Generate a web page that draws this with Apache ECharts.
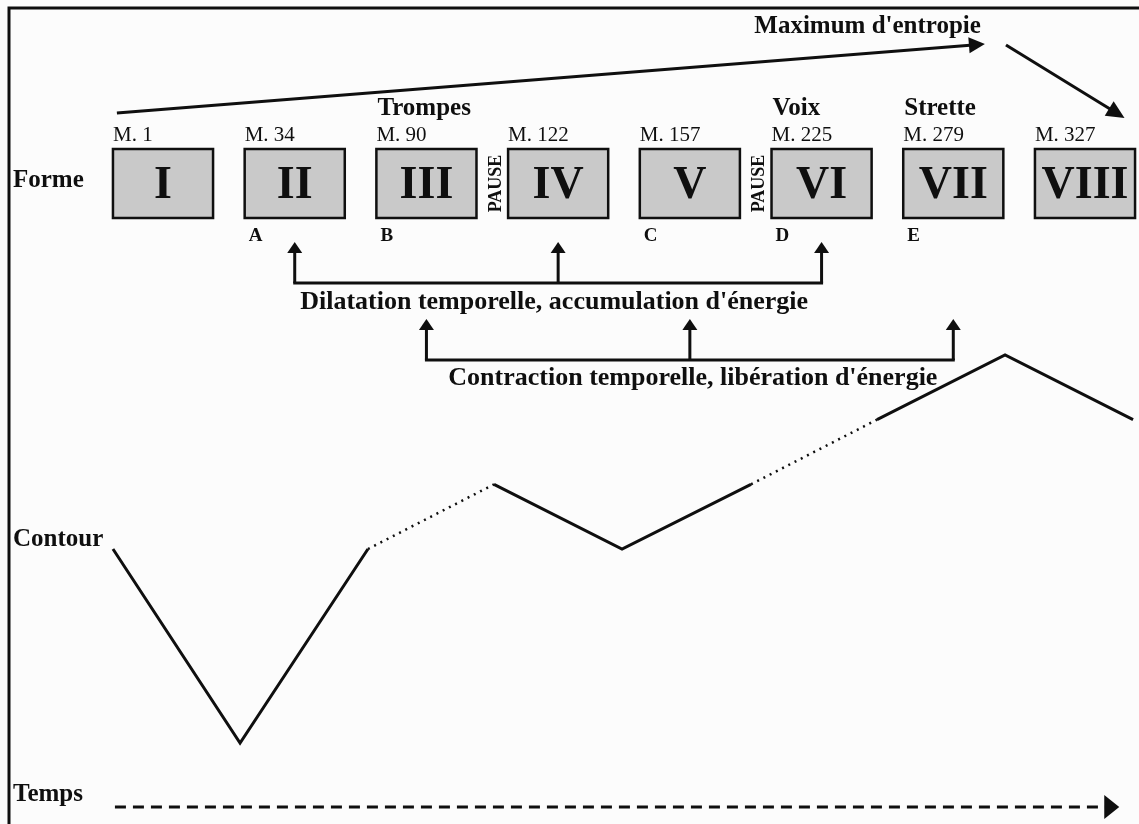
<!DOCTYPE html>
<html>
<head>
<meta charset="utf-8">
<title>Forme et contour</title>
<script src="https://cdn.jsdelivr.net/npm/echarts@6/dist/echarts.min.js"></script>
<style>
  html, body { margin: 0; padding: 0; background: #fcfcfc; }
  #chart { width: 1139px; height: 824px; }
</style>
</head>
<body>
<div id="chart"></div>
<script>
// sections de la forme
const sections = ['I', 'II', 'III', 'IV', 'V', 'VI', 'VII', 'VIII'];
const measures = ['M. 1', 'M. 34', 'M. 90', 'M. 122', 'M. 157', 'M. 225', 'M. 279', 'M. 327'];
const themes = ['', 'A', 'B', '', 'C', 'D', 'E', ''];
const tags = ['', '', 'Trompes', '', '', 'Voix', 'Strette', ''];
const pauses = [3, 5];              // pause avant IV et VI
const dilatation = [1, 3, 5];       // II, IV, VI
const contraction = [2, 4, 6];      // III, V, VII

// contour : x en sections, niveau relatif
const contourX = [-0.38, 0.585, 1.556, 2.513, 3.485, 4.464, 5.421, 6.393, 7.365];
const contourLevel = [3, 0, 3, 4, 3, 4, 5, 6, 5];
const contourStyle = ['solid', 'solid', 'dotted', 'solid', 'solid', 'dotted', 'solid', 'solid'];

// fleche d'entropie et axe du temps (x en sections)
const entropyX = [-0.35, 6.24, 6.40, 7.30];
const timeX = [-0.365, 7.26];

const INK = '#0f0f0f';
const BOX_FILL = '#c9c9c9';
const SERIF = '"Liberation Serif", "Times New Roman", serif';
const BOX_W = 0.76;
// etendue de l'axe des sections sur toute la largeur
const X_MIN = -1.2376;
const X_MAX = 7.41;

// rangees de la partie haute (px)
const ROW = {
  entropyText: 27, entropyStart: 113, entropyPeak: 44, entropyPeak2: 45, entropyEnd: 118,
  tag: 109, measure: 135, boxTop: 149, boxBottom: 218, numeral: 186, theme: 236,
  dilTip: 242, dilBar: 283, dilText: 302,
  conTip: 319, conBar: 360, conText: 378,
  time: 807
};

function head(x1, y1, x2, y2, len, half) {
  const dx = x2 - x1, dy = y2 - y1, d = Math.hypot(dx, dy);
  const ux = dx / d, uy = dy / d;
  const bx = x2 - ux * len, by = y2 - uy * len;
  return {
    base: [bx + ux, by + uy],
    pts: [[x2, y2], [bx - uy * half, by + ux * half], [bx + uy * half, by - ux * half]]
  };
}

function arrow(x1, y1, x2, y2, len, half, width, dash) {
  const h = head(x1, y1, x2, y2, len, half);
  return [
    { type: 'line', shape: { x1: x1, y1: y1, x2: h.base[0], y2: h.base[1] },
      style: { stroke: INK, lineWidth: width, lineDash: dash || null } },
    { type: 'polygon', shape: { points: h.pts }, style: { fill: INK } }
  ];
}

function txt(text, x, y, size, bold, align, extra) {
  return Object.assign({
    type: 'text',
    style: {
      text: text, x: x, y: y, fill: INK,
      font: (bold ? 'bold ' : '') + size + 'px ' + SERIF,
      align: align || 'left', verticalAlign: 'middle'
    }
  }, extra || {});
}

function renderSection(params, api) {
  const i = params.dataIndex;
  const cx = api.coord([api.value(0), 0])[0];
  const w = api.size([BOX_W, 0])[0];
  const left = cx - w / 2;
  const kids = [
    { type: 'rect', shape: { x: left, y: ROW.boxTop, width: w, height: ROW.boxBottom - ROW.boxTop },
      style: { fill: BOX_FILL, stroke: INK, lineWidth: 2.5 } },
    txt(sections[i], cx, ROW.numeral, 46, true, 'center'),
    txt(measures[i], left, ROW.measure, 21, false)
  ];
  if (tags[i]) kids.push(txt(tags[i], left + 1, ROW.tag, 25, true));
  if (themes[i]) kids.push(txt(themes[i], left + 4, ROW.theme, 19, true));
  return { type: 'group', children: kids };
}

function renderPause(params, api) {
  const i = pauses[params.dataIndex];
  const x = api.coord([i - 0.47, 0])[0];
  return txt('PAUSE', 0, 0, 18, true, 'center', {
    x: x, y: (ROW.boxTop + ROW.boxBottom) / 2, rotation: Math.PI / 2
  });
}

const brackets = [
  { targets: dilatation, tip: ROW.dilTip, bar: ROW.dilBar, textY: ROW.dilText, shift: -4,
    label: 'Dilatation temporelle, accumulation d\'énergie' },
  { targets: contraction, tip: ROW.conTip, bar: ROW.conBar, textY: ROW.conText, shift: 3,
    label: 'Contraction temporelle, libération d\'énergie' }
];

function renderBracket(params, api) {
  const b = brackets[params.dataIndex];
  const xs = b.targets.map(t => api.coord([t, 0])[0]);
  const kids = [
    { type: 'line', shape: { x1: xs[0] - 1.5, y1: b.bar, x2: xs[xs.length - 1] + 1.5, y2: b.bar },
      style: { stroke: INK, lineWidth: 3 } }
  ];
  xs.forEach(x => {
    kids.push.apply(kids, arrow(x, b.bar, x, b.tip, 11, 7.5, 3));
  });
  kids.push(txt(b.label, xs[1] + b.shift, b.textY, 26, true, 'center'));
  return { type: 'group', children: kids };
}

function renderEntropy(params, api) {
  const p = entropyX.map(x => api.coord([x, 0])[0]);
  const kids = [];
  kids.push.apply(kids, arrow(p[0], ROW.entropyStart, p[1], ROW.entropyPeak, 16, 8, 3));
  kids.push.apply(kids, arrow(p[2], ROW.entropyPeak2, p[3], ROW.entropyEnd, 18, 8.5, 3));
  kids.push(txt('Maximum d\'entropie', p[1] - 4, ROW.entropyText, 25, true, 'right'));
  return { type: 'group', children: kids };
}

function renderTime(params, api) {
  const a = api.coord([timeX[0], 0])[0];
  const b = api.coord([timeX[1], 0])[0];
  return { type: 'group', children: arrow(a, ROW.time, b, ROW.time, 15, 12, 3, [11, 7]) };
}

function contourRuns() {
  const runs = [];
  let cur = null;
  for (let k = 0; k < contourStyle.length; k++) {
    if (!cur || cur.style !== contourStyle[k]) {
      cur = { style: contourStyle[k], pts: [[contourX[k], contourLevel[k]]] };
      runs.push(cur);
    }
    cur.pts.push([contourX[k + 1], contourLevel[k + 1]]);
  }
  return runs;
}

const contourSeries = contourRuns().map(run => ({
  type: 'line',
  data: run.pts,
  clip: false,
  symbol: 'none',
  silent: true,
  lineStyle: {
    color: INK,
    width: run.style === 'dotted' ? 2.5 : 3,
    type: run.style === 'dotted' ? [2, 5] : 'solid',
    cap: 'butt',
    join: 'miter'
  }
}));

const chart = echarts.init(document.getElementById('chart'));
chart.setOption({
  backgroundColor: '#fcfcfc',
  animation: false,
  grid: { left: 0, right: 0, top: 355, bottom: 81 },
  xAxis: { type: 'value', min: X_MIN, max: X_MAX, show: false },
  yAxis: { type: 'value', min: 0, max: 6, show: false },
  graphic: [
    { type: 'rect', shape: { x: 9, y: 8, width: 1200, height: 900 },
      style: { fill: null, stroke: INK, lineWidth: 3 } },
    { type: 'text', left: 13, top: 168, style: { text: 'Forme', font: 'bold 25px ' + SERIF, fill: INK } },
    { type: 'text', left: 13, top: 527, style: { text: 'Contour', font: 'bold 25px ' + SERIF, fill: INK } },
    { type: 'text', left: 13, top: 782, style: { text: 'Temps', font: 'bold 25px ' + SERIF, fill: INK } }
  ],
  series: [
    { type: 'custom', silent: true, data: sections.map((s, i) => [i, 0]), renderItem: renderSection },
    { type: 'custom', silent: true, data: pauses.map(() => [0, 0]), renderItem: renderPause },
    { type: 'custom', silent: true, data: brackets.map(() => [0, 0]), renderItem: renderBracket },
    { type: 'custom', silent: true, data: [[0, 0]], renderItem: renderEntropy },
    { type: 'custom', silent: true, data: [[0, 0]], renderItem: renderTime }
  ].concat(contourSeries)
});
</script>
</body>
</html>
